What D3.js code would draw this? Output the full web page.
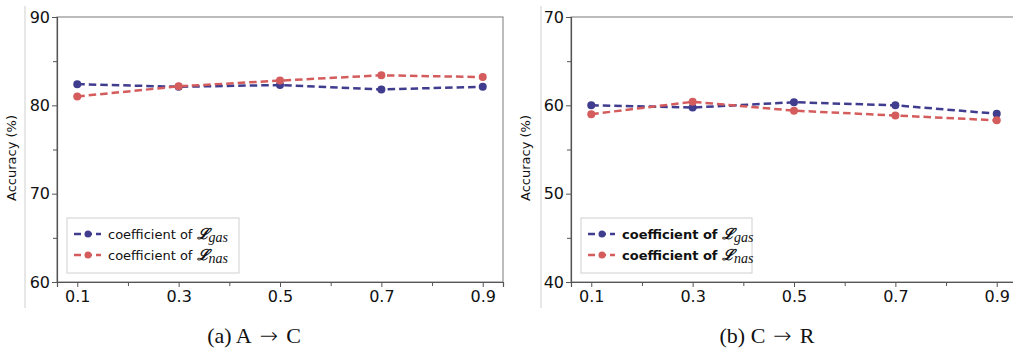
<!DOCTYPE html>
<html>
<head>
<meta charset="utf-8">
<script src="https://cdn.jsdelivr.net/npm/d3@7"></script>
<style>
  html, body { margin: 0; padding: 0; background: #fff; }
  svg { display: block; }
</style>
</head>
<body>
<div id="chart"></div>
<script>
const coefficients = [0.1, 0.3, 0.5, 0.7, 0.9];
const xTickLabels = ['0.1', '0.3', '0.5', '0.7', '0.9'];
const xMinorTicks = [0.2, 0.4, 0.6, 0.8];

// (a) A -> C
const gasAC = [82.4, 82.1, 82.3, 81.8, 82.1];
const nasAC = [81.0, 82.15, 82.8, 83.4, 83.2];
// (b) C -> R
const gasCR = [60.0, 59.75, 60.35, 60.0, 59.05];
const nasCR = [59.0, 60.4, 59.4, 58.85, 58.3];

const panels = [
  { caption: ['(a) A', 'C'], yDomain: [60, 90], major: [60, 70, 80, 90], minor: [65, 75, 85],
    gas: gasAC, nas: nasAC, left: 57, right: 503, bold: false, divider: 25, captionX: 254 },
  { caption: ['(b) C', 'R'], yDomain: [40, 70], major: [40, 50, 60, 70], minor: [45, 55, 65],
    gas: gasCR, nas: nasCR, left: 571, right: 1017, bold: true, divider: 541, captionX: 767 }
];

const blue = '#403c8e';
const red = '#d45c5c';
const W = 1013, H = 349;
const plotTop = 17, plotBottom = 282;

const svg = d3.select('#chart').append('svg')
  .attr('width', W).attr('height', H)
  .attr('viewBox', `0 0 ${W} ${H}`);

panels.forEach(p => {
  const g = svg.append('g');

  // light subfigure divider
  g.append('line')
    .attr('x1', p.divider).attr('x2', p.divider)
    .attr('y1', 6).attr('y2', 308)
    .attr('stroke', '#cfcfcf').attr('stroke-width', 1);

  const x = d3.scaleLinear().domain([0.06, 0.94]).range([p.left, p.right]);
  const y = d3.scaleLinear().domain(p.yDomain).range([plotBottom, plotTop]);

  // frame
  g.append('rect')
    .attr('x', p.left).attr('y', plotTop)
    .attr('width', p.right - p.left).attr('height', plotBottom - plotTop)
    .attr('fill', 'none').attr('stroke', '#8f8f8f').attr('stroke-width', 1.2);

  // axes
  g.append('g').attr('transform', `translate(0,${plotBottom})`)
    .call(d3.axisBottom(x).tickValues(coefficients).tickSize(5).tickPadding(4)
      .tickFormat((d, i) => xTickLabels[i]));
  g.append('g').attr('transform', `translate(0,${plotBottom})`)
    .call(d3.axisBottom(x).tickValues(xMinorTicks).tickSize(4).tickFormat(''))
    .call(a => a.select('.domain').remove());
  g.append('g').attr('transform', `translate(${p.left},0)`)
    .call(d3.axisLeft(y).tickValues(p.major).tickSize(5).tickPadding(2));
  g.append('g').attr('transform', `translate(${p.left},0)`)
    .call(d3.axisLeft(y).tickValues(p.minor).tickSize(4).tickFormat(''))
    .call(a => a.select('.domain').remove());

  g.selectAll('.domain').attr('stroke', '#555').attr('stroke-width', 1.2);
  g.selectAll('.tick line').attr('stroke', '#555');
  g.selectAll('.tick text')
    .attr('font-family', 'DejaVu Sans, sans-serif')
    .attr('font-size', 16)
    .attr('fill', '#111');

  // y label
  g.append('text')
    .attr('transform', `translate(${p.left - 41},158) rotate(-90)`)
    .attr('text-anchor', 'middle')
    .attr('font-family', 'DejaVu Sans, sans-serif')
    .attr('font-size', 13)
    .attr('fill', '#111')
    .text('Accuracy (%)');

  const line = d3.line().x((d, i) => x(coefficients[i])).y(d => y(d));

  [{ vals: p.gas, color: blue }, { vals: p.nas, color: red }].forEach(s => {
    g.append('path')
      .datum(s.vals)
      .attr('d', line)
      .attr('fill', 'none')
      .attr('stroke', s.color)
      .attr('stroke-width', 2.5)
      .attr('stroke-dasharray', '7.5,4');
    g.selectAll(null).data(s.vals).enter().append('circle')
      .attr('cx', (d, i) => x(coefficients[i]))
      .attr('cy', d => y(d))
      .attr('r', 4)
      .attr('fill', s.color);
  });

  // legend
  const lx = p.left + 10;
  const lw = p.bold ? 171 : 172;
  const leg = g.append('g');
  leg.append('rect')
    .attr('x', lx).attr('y', 218)
    .attr('width', lw).attr('height', 55)
    .attr('fill', '#fff').attr('stroke', '#d0d0d0').attr('stroke-width', 1);

  const entries = [{ color: blue, sub: 'gas' }, { color: red, sub: 'nas' }];
  entries.forEach((e, i) => {
    const cy = 234 + i * 21;
    leg.append('line')
      .attr('x1', lx + 7).attr('x2', lx + 34)
      .attr('y1', cy).attr('y2', cy)
      .attr('stroke', e.color).attr('stroke-width', 2.5)
      .attr('stroke-dasharray', '7,4');
    leg.append('circle')
      .attr('cx', lx + 21).attr('cy', cy).attr('r', 3.5)
      .attr('fill', e.color);
    const t = leg.append('text')
      .attr('x', lx + 41).attr('y', cy + 5)
      .attr('font-family', 'DejaVu Sans, sans-serif')
      .attr('font-size', 13)
      .attr('font-weight', p.bold ? 'bold' : 'normal')
      .attr('fill', '#111');
    t.append('tspan').text('coefficient of ');
    t.append('tspan')
      .attr('font-family', 'DejaVu Serif, serif')
      .attr('font-style', 'italic')
      .attr('font-weight', 'bold')
      .attr('font-size', 15)
      .text('\u2112');
    t.append('tspan')
      .attr('font-family', 'Liberation Serif, serif')
      .attr('font-style', 'italic')
      .attr('font-weight', 'normal')
      .attr('font-size', 14)
      .attr('dy', 3)
      .text(e.sub);
  });

  // caption
  const cap = g.append('text')
    .attr('x', p.captionX).attr('y', 343)
    .attr('text-anchor', 'middle')
    .attr('font-family', 'Liberation Serif, Times New Roman, serif')
    .attr('font-size', 22)
    .attr('fill', '#111');
  cap.append('tspan').text(p.caption[0]);
  cap.append('tspan').attr('dx', 8).attr('font-family', 'DejaVu Sans, sans-serif')
    .attr('font-weight', 200).attr('font-size', 22).text('\u2192');
  cap.append('tspan').attr('dx', 8).text(p.caption[1]);
});
</script>
</body>
</html>
